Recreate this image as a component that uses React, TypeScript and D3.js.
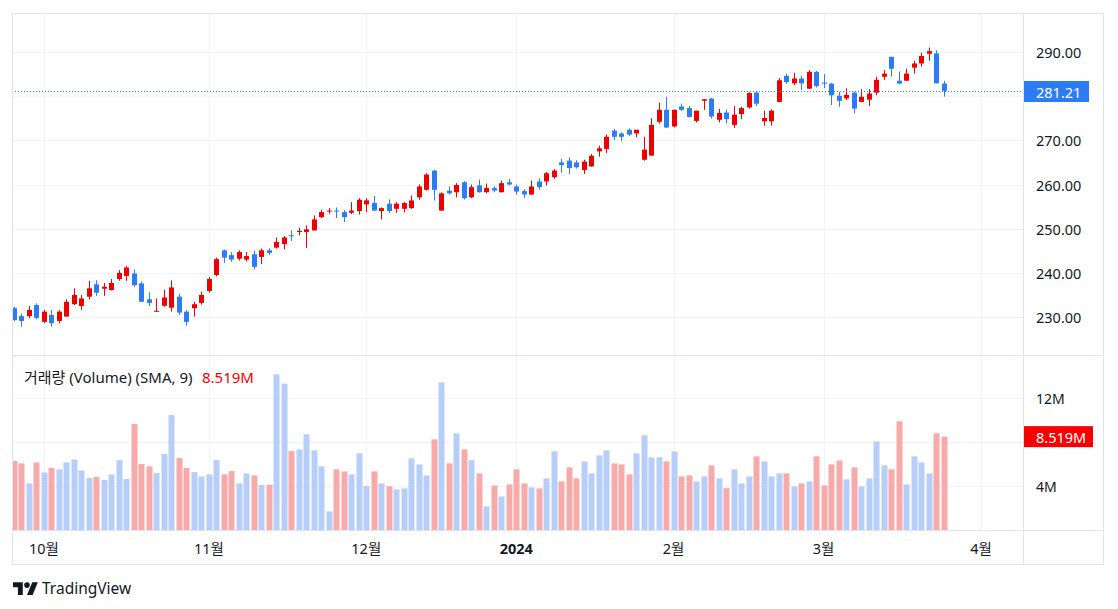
import * as d3 from 'd3';

// daily candles, 2023-09-26 .. 2024-03-25
const opens = [
  232.0, 230.2, 230.2, 232.7, 228.9, 230.45, 229.1, 230.1, 232.9, 232.5,
  234.6, 237.4, 236.4, 236.1, 238.6, 239.3, 239.85, 237.6, 234.0, 231.2,
  232.55, 232.1, 234.6, 231.2, 232.0, 233.2, 235.9, 239.5, 245.1, 244.0,
  243.2, 243.0, 244.2, 243.6, 245.1, 245.7, 246.5, 248.5, 249.25, 249.25,
  249.6, 252.6, 253.9, 254.1, 253.75, 253.6, 254.0, 255.5, 255.8, 254.0,
  255.65, 254.5, 254.5, 254.65, 257.1, 258.8, 263.15, 254.1, 258.6, 258.25,
  260.5, 257.1, 259.8, 258.25, 259.2, 258.25, 260.5, 259.55, 258.5, 257.75,
  260.7, 260.7, 261.65, 265.0, 265.4, 265.0, 263.3, 264.1, 267.5, 268.05,
  272.2, 271.55, 272.4, 271.55, 265.6, 266.55, 274.2, 276.9, 273.15, 277.65,
  277.3, 274.4, 278.95, 279.45, 274.65, 276.3, 273.5, 275.95, 277.45, 280.8,
  274.3, 274.3, 278.7, 284.6, 282.9, 284.0, 281.7, 285.5, 283.1, 282.85,
  280.1, 279.5, 280.8, 278.7, 279.2, 280.8, 284.4, 288.9, 283.5, 283.5,
  286.45, 287.4, 289.6, 289.7, 282.85,
];
const highs = [
  232.3, 230.8, 232.5, 233.1, 231.6, 231.6, 231.6, 234.0, 236.5, 235.0,
  238.2, 238.3, 237.7, 238.6, 240.6, 241.5, 240.75, 238.0, 235.6, 234.2,
  236.2, 238.3, 235.3, 231.6, 233.45, 235.7, 239.1, 243.45, 245.3, 244.7,
  245.1, 244.7, 245.0, 245.5, 245.6, 248.0, 248.3, 249.6, 250.2, 250.75,
  253.0, 254.3, 254.65, 254.8, 254.2, 256.0, 256.9, 256.9, 257.4, 254.8,
  256.6, 256.0, 256.0, 257.5, 260.0, 262.6, 263.3, 258.2, 259.55, 260.3,
  260.75, 260.0, 261.1, 260.2, 259.6, 260.9, 261.3, 260.0, 258.9, 260.9,
  261.4, 262.9, 263.5, 265.8, 266.15, 265.5, 265.6, 266.9, 268.8, 271.3,
  272.6, 271.8, 272.7, 272.2, 270.8, 275.0, 278.55, 279.85, 277.0, 278.3,
  277.8, 276.7, 279.3, 279.6, 277.1, 277.0, 277.8, 277.6, 280.9, 281.0,
  276.7, 277.0, 284.1, 285.1, 285.3, 284.6, 285.9, 285.7, 285.0, 283.0,
  281.0, 281.8, 281.0, 281.6, 281.6, 284.4, 285.9, 288.95, 285.55, 286.2,
  288.0, 289.85, 291.0, 290.4, 283.45,
];
const lows = [
  229.0, 227.8, 229.7, 229.5, 228.6, 227.8, 228.6, 230.1, 232.7, 231.6,
  234.0, 234.8, 234.8, 236.0, 238.2, 238.2, 236.8, 233.4, 232.5, 231.2,
  232.3, 231.2, 230.45, 228.0, 230.1, 232.8, 235.5, 239.2, 242.25, 242.5,
  242.8, 242.6, 240.75, 242.0, 244.0, 245.5, 245.3, 247.2, 248.5, 245.6,
  249.6, 252.4, 253.4, 252.4, 251.5, 253.3, 253.2, 253.75, 254.0, 252.1,
  253.5, 253.6, 253.7, 254.5, 256.55, 258.6, 256.4, 254.0, 257.75, 257.1,
  256.6, 256.9, 258.2, 258.0, 258.25, 258.2, 259.8, 257.7, 256.9, 257.6,
  258.8, 259.8, 261.3, 262.65, 262.4, 263.6, 262.4, 264.0, 266.3, 267.1,
  270.1, 269.8, 271.0, 270.7, 265.4, 266.5, 273.8, 272.8, 272.9, 276.7,
  275.2, 274.05, 276.9, 274.9, 274.05, 273.8, 272.8, 274.8, 277.2, 277.8,
  273.3, 273.3, 278.6, 282.8, 282.5, 281.4, 281.6, 281.95, 281.8, 278.0,
  277.6, 279.1, 276.1, 278.6, 277.8, 280.2, 283.7, 284.4, 282.8, 283.4,
  285.1, 286.7, 288.0, 282.9, 279.9,
];
const closes = [
  229.3, 229.1, 231.6, 229.8, 231.2, 228.6, 231.2, 233.45, 235.0, 234.2,
  236.5, 235.5, 236.85, 237.7, 240.0, 241.2, 237.2, 233.45, 233.2, 231.4,
  234.4, 236.7, 231.0, 228.9, 232.9, 235.0, 238.6, 243.1, 243.45, 243.0,
  244.7, 243.8, 241.35, 245.1, 244.5, 247.0, 248.0, 248.3, 249.5, 249.85,
  252.1, 253.75, 254.1, 253.9, 252.6, 254.1, 256.55, 256.4, 254.1, 254.65,
  254.0, 255.65, 255.8, 256.4, 259.55, 262.25, 258.8, 258.0, 258.0, 259.9,
  256.9, 259.4, 258.25, 259.2, 258.65, 260.3, 260.0, 258.4, 257.75, 259.55,
  259.4, 262.55, 263.15, 264.4, 263.75, 263.9, 265.2, 266.5, 268.2, 270.8,
  270.8, 270.8, 271.3, 272.4, 267.9, 273.5, 276.9, 272.9, 276.9, 276.9,
  275.3, 276.7, 279.3, 275.4, 276.2, 274.8, 275.8, 277.3, 280.7, 278.3,
  275.05, 276.7, 283.6, 283.2, 284.0, 282.9, 285.5, 282.3, 282.85, 280.2,
  278.95, 280.3, 277.2, 279.85, 280.6, 283.7, 285.1, 286.2, 282.85, 285.1,
  287.4, 289.1, 290.2, 282.9, 281.21,
];
// volume, millions
const volumes = [
  6.3, 6.09, 4.27, 6.18, 5.27, 5.67, 5.55, 6.18, 6.45, 5.45,
  4.76, 4.85, 4.58, 5.09, 6.39, 4.67, 9.67, 6.03, 5.82, 5.21,
  6.94, 10.48, 6.58, 5.67, 5.3, 4.91, 5.09, 6.39, 5.09, 5.39,
  4.27, 5.18, 5.0, 4.15, 4.15, 14.18, 13.33, 7.21, 7.36, 8.73,
  7.27, 5.82, 1.73, 5.55, 5.36, 5.09, 7.0, 4.03, 5.36, 4.27,
  4.0, 3.73, 3.82, 6.55, 6.0, 5.0, 8.27, 13.45, 6.09, 8.82,
  7.36, 6.39, 5.18, 2.18, 4.09, 3.09, 4.18, 5.55, 4.27, 3.91,
  3.82, 4.73, 7.18, 4.45, 5.73, 4.73, 6.27, 5.18, 6.82, 7.27,
  6.09, 6.0, 5.09, 7.0, 8.64, 6.64, 6.64, 6.27, 7.18, 4.91,
  5.0, 4.45, 4.91, 5.91, 4.73, 3.85, 5.55, 4.27, 4.91, 6.73,
  6.27, 4.91, 5.18, 5.18, 4.0, 4.27, 4.45, 6.73, 4.09, 6.0,
  6.36, 4.64, 5.73, 4.0, 4.73, 8.09, 5.91, 5.55, 9.91, 4.18,
  6.73, 6.18, 5.18, 8.82, 8.519,
];

const priceTicks = [230, 240, 250, 260, 270, 280, 290];
const volTicks = [4, 8, 12];
const monthTickIdx = [4, 26, 47, 67, 88, 108, 129];
const monthLabels = ['10월', '11월', '12월', '2024', '2월', '3월', '4월'];

const UP = '#ef0000';
const DOWN = '#2b7cf5';
const VOL_UP = '#b6cef9';
const VOL_DOWN = '#f8a9a9';
const GRID = '#f0f3fa';
const BORDER = '#e0e3eb';
const TEXT = '#131722';
const FONT = "'Noto Sans', 'Noto Sans CJK KR', sans-serif";

export default function App() {
  const left = 12, right = 1023, frameR = 1104;
  const top = 13, paneSep = 355, volBottom = 530, axisBottom = 565;

  const x = d3.scaleLinear().domain([0, 124]).range([14, 943.5]);
  const y = d3.scaleLinear().domain([230, 290]).range([317, 52]);
  const yv = d3.scaleLinear().domain([0, 12]).range([530.5, 398.3]);

  const last = closes.length - 1;
  const lastClose = closes[last];
  const lastVol = volumes[last];
  const lastY = Math.round(y(lastClose)) + 0.5;
  const lastVY = yv(lastVol);

  // axis labels hidden behind the last-value badges, as TradingView does
  const priceLabels = priceTicks.filter(t => Math.abs(y(t) - lastY) > 16);
  const volLabels = volTicks.filter(t => Math.abs(yv(t) - lastVY) > 16);

  return (
    <div style={{ position: 'absolute', left: 0, top: 0 }}>
      <svg width={1118} height={609} viewBox="0 0 1118 609" style={{ display: 'block', background: '#fff' }} fontFamily={FONT}>
        <defs>
          <clipPath id="plotClip">
            <rect x={left} y={top} width={right - left} height={volBottom - top} />
          </clipPath>
        </defs>

        {/* grid */}
        {priceTicks.map(t => (
          <line key={'pg' + t} x1={left} x2={right} y1={Math.round(y(t)) + 0.5} y2={Math.round(y(t)) + 0.5} stroke={GRID} />
        ))}
        {volTicks.map(t => (
          <line key={'vg' + t} x1={left} x2={right} y1={Math.round(yv(t)) + 0.5} y2={Math.round(yv(t)) + 0.5} stroke={GRID} />
        ))}
        {monthTickIdx.map(i => (
          <line key={'mg' + i} x1={Math.round(x(i)) + 0.5} x2={Math.round(x(i)) + 0.5} y1={top} y2={volBottom} stroke={GRID} />
        ))}

        <g clipPath="url(#plotClip)">
          {/* volume */}
          {volumes.map((v, i) => {
            const cx = Math.round(x(i));
            const up = closes[i] >= opens[i];
            return (
              <rect key={'v' + i} x={cx - 2.5} y={yv(v)} width={6} height={yv(0) - yv(v)} fill={up ? VOL_UP : VOL_DOWN} />
            );
          })}
          {/* candles */}
          {closes.map((c, i) => {
            const cx = Math.round(x(i));
            const o = opens[i];
            const up = c >= o;
            const col = up ? UP : DOWN;
            const bt = y(Math.max(o, c));
            const bb = y(Math.min(o, c));
            return (
              <g key={'c' + i}>
                <rect x={cx} y={y(highs[i])} width={1} height={y(lows[i]) - y(highs[i])} fill={col} />
                <rect x={cx - 2} y={bt} width={5} height={Math.max(1, bb - bt)} fill={col} />
              </g>
            );
          })}
          {/* last price line */}
          <line x1={left} x2={right} y1={lastY} y2={lastY} stroke={DOWN} strokeDasharray="1 2" />
        </g>

        {/* frame and separators */}
        <rect x={left + 0.5} y={top + 0.5} width={frameR - left - 1} height={axisBottom - top - 1} fill="none" stroke={BORDER} />
        <line x1={left} x2={frameR} y1={paneSep + 0.5} y2={paneSep + 0.5} stroke={BORDER} />
        <line x1={left} x2={frameR} y1={volBottom + 0.5} y2={volBottom + 0.5} stroke={BORDER} />
        <line x1={right + 0.5} x2={right + 0.5} y1={top} y2={axisBottom} stroke={BORDER} />

        {/* price axis */}
        {priceLabels.map(t => (
          <text key={'pt' + t} x={1036} y={y(t)} dominantBaseline="central" fontSize={14.5} fill={TEXT}>
            {t.toFixed(2)}
          </text>
        ))}
        <rect x={right + 1} y={lastY - 10.5} width={65} height={21} fill={DOWN} />
        <text x={1036} y={lastY} dominantBaseline="central" fontSize={14.5} fill="#fff">{lastClose.toFixed(2)}</text>

        {/* volume axis */}
        {volLabels.map(t => (
          <text key={'vt' + t} x={1036} y={yv(t)} dominantBaseline="central" fontSize={14} fill={TEXT}>
            {t}M
          </text>
        ))}
        <rect x={right + 1} y={lastVY - 10.5} width={69} height={21} fill="#f70000" />
        <text x={1036} y={lastVY} dominantBaseline="central" fontSize={14.5} fill="#fff">{lastVol.toFixed(3)}M</text>

        {/* legend */}
        <text x={24} y={377} dominantBaseline="central" fontSize={15} fill={TEXT}>거래량 (Volume) (SMA, 9)</text>
        <text x={202} y={377} dominantBaseline="central" fontSize={15} fill="#f70000">{lastVol.toFixed(3)}M</text>

        {/* time axis */}
        {monthTickIdx.map((i, k) => (
          <text key={'mt' + i} x={x(i)} y={548} textAnchor="middle" dominantBaseline="central" fontSize={14.5}
            fill={TEXT} fontWeight={monthLabels[k] === '2024' ? 700 : 400}>
            {monthLabels[k]}
          </text>
        ))}

        {/* logo */}
        <g transform="translate(13,579.5) scale(0.7)" fill="#131722">
          <path d="M14 22H7V11H0V4h14v18zM28 22h-8l7.5-18h8L28 22z" />
          <circle cx={20} cy={8} r={4} />
        </g>
        <text x={42} y={588} dominantBaseline="central" fontSize={15.5} fill="#131722">TradingView</text>
      </svg>
    </div>
  );
}
